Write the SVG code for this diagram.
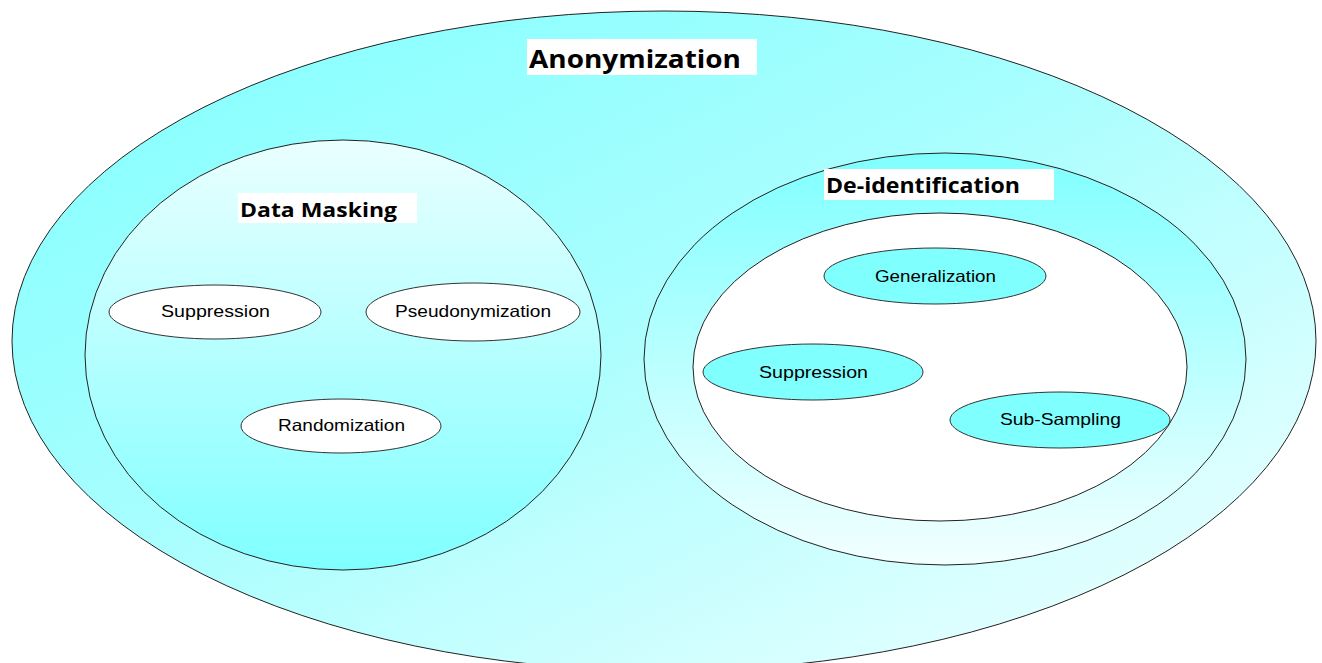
<svg xmlns="http://www.w3.org/2000/svg" width="1322" height="663" viewBox="0 0 1322 663">
  <defs>
    <linearGradient id="gOuter" x1="0" y1="0" x2="1" y2="1">
      <stop offset="0" stop-color="#80FFFF"/>
      <stop offset="0.45" stop-color="#A8FEFE"/>
      <stop offset="1" stop-color="#F4FFFF"/>
    </linearGradient>
    <linearGradient id="gMask" x1="0" y1="0" x2="0" y2="1">
      <stop offset="0" stop-color="#EAFFFF"/>
      <stop offset="1" stop-color="#80FFFF"/>
    </linearGradient>
    <linearGradient id="gDeid" x1="0" y1="0" x2="0" y2="1">
      <stop offset="0" stop-color="#80FFFF"/>
      <stop offset="1" stop-color="#F2FFFF"/>
    </linearGradient>
    <style>
      .ring { stroke: #222; stroke-width: 1; }
      .item { stroke: #333; stroke-width: 1; }
      .white { fill: #FFFFFF; }
      .cyan { fill: #80FFFF; }
      .title { font-family: "Open Sans", "Liberation Sans", sans-serif; font-weight: bold; fill: #000; }
      .label { font-family: "Liberation Sans", Arial, sans-serif; font-size: 16.5px; fill: #000; text-anchor: start; }
    </style>
  </defs>

  <rect width="1322" height="663" fill="#FFFFFF"/>

  <!-- Anonymization (outermost set) -->
  <g id="anonymization">
    <ellipse class="ring" cx="664" cy="341" rx="652" ry="330" fill="url(#gOuter)"/>
    <rect x="527" y="39" width="230" height="36" fill="#FFFFFF"/>
    <text class="title" x="529" y="68" font-size="25" textLength="212" lengthAdjust="spacingAndGlyphs">Anonymization</text>
  </g>

  <!-- Data Masking set -->
  <g id="data-masking">
    <ellipse class="ring" cx="343" cy="355" rx="258" ry="215" fill="url(#gMask)"/>
    <rect x="238" y="193" width="179" height="30" fill="#FFFFFF"/>
    <text class="title" x="240" y="217" font-size="19.5" textLength="157" lengthAdjust="spacingAndGlyphs">Data Masking</text>
  </g>

  <g id="dm-suppression">
    <ellipse class="item white" cx="215" cy="312" rx="106" ry="27"/>
    <text class="label" x="161" y="317" textLength="109" lengthAdjust="spacingAndGlyphs">Suppression</text>
  </g>
  <g id="dm-pseudonymization">
    <ellipse class="item white" cx="473" cy="312" rx="107" ry="29"/>
    <text class="label" x="395" y="317" textLength="156" lengthAdjust="spacingAndGlyphs">Pseudonymization</text>
  </g>
  <g id="dm-randomization">
    <ellipse class="item white" cx="341" cy="426" rx="100" ry="27"/>
    <text class="label" x="278" y="431" textLength="127" lengthAdjust="spacingAndGlyphs">Randomization</text>
  </g>

  <!-- De-identification set -->
  <g id="de-identification">
    <ellipse class="ring" cx="945" cy="359" rx="301" ry="206" fill="url(#gDeid)"/>
    <rect x="824" y="169" width="230" height="31" fill="#FFFFFF"/>
    <text class="title" x="826" y="193" font-size="20.5" textLength="194" lengthAdjust="spacingAndGlyphs">De-identification</text>
    <ellipse class="ring" cx="940" cy="367" rx="247" ry="154" fill="#FFFFFF"/>
  </g>

  <g id="di-generalization">
    <ellipse class="item cyan" cx="935" cy="276" rx="111" ry="28"/>
    <text class="label" x="875" y="282" textLength="121" lengthAdjust="spacingAndGlyphs">Generalization</text>
  </g>
  <g id="di-suppression">
    <ellipse class="item cyan" cx="813" cy="372" rx="110" ry="28"/>
    <text class="label" x="759" y="378" textLength="109" lengthAdjust="spacingAndGlyphs">Suppression</text>
  </g>
  <g id="di-subsampling">
    <ellipse class="item cyan" cx="1060" cy="420" rx="110" ry="28"/>
    <text class="label" x="1000" y="425" textLength="121" lengthAdjust="spacingAndGlyphs">Sub-Sampling</text>
  </g>

  <!-- no connectors: sets are shown by nesting -->
  <g id="connectors"/>
</svg>
